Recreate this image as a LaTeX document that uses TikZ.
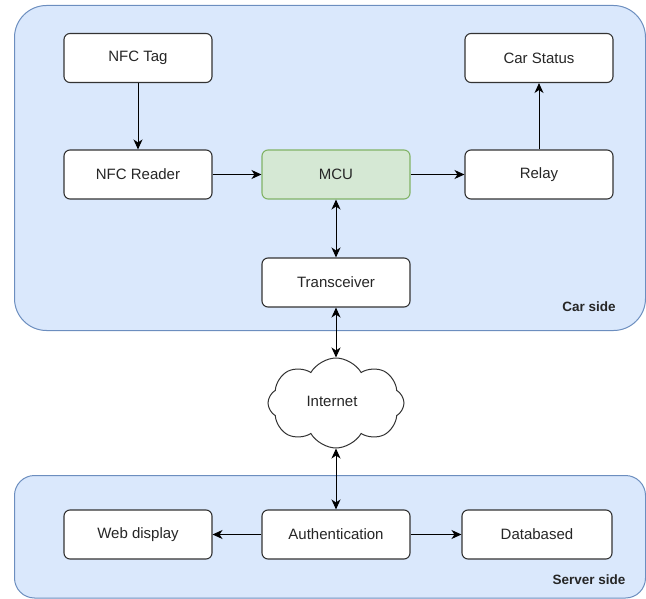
\documentclass[tikz,border=0pt]{standalone}
\usepackage{fontspec}
\setmainfont{Liberation Sans}
\usetikzlibrary{shapes.symbols,arrows.meta}
\definecolor{grpfill}{HTML}{DAE8FC}
\definecolor{grpline}{HTML}{6C8EBF}
\definecolor{mcufill}{HTML}{D5E8D4}
\definecolor{mculine}{HTML}{82B366}
\definecolor{boxline}{HTML}{333333}
\definecolor{txt}{HTML}{262626}
\tikzset{
  blockbox/.style={draw=boxline, fill=white, line width=1.1pt, rounded corners=6pt,
    minimum width=148pt, minimum height=49pt, inner sep=0pt,
    font=\fontsize{15pt}{17pt}\selectfont, text=txt},
  group/.style={draw=grpline, fill=grpfill, line width=1pt},
  tipstyle/.style={},
  conn/.style={line width=1pt, -{Stealth[length=10pt,width=9pt,inset=3pt]}},
  biconn/.style={line width=1pt, {Stealth[length=10pt,width=9pt,inset=3pt]}-{Stealth[length=10pt,width=9pt,inset=3pt]}},
  grouplabel/.style={font=\bfseries\fontsize{13.5pt}{15pt}\selectfont, text=txt, inner sep=0pt}
}
\begin{document}
\begin{tikzpicture}[x=1pt,y=-1pt]
\useasboundingbox (0,0) rectangle (646,599);
% containers
\path[group, rounded corners=32pt] (14.5,5.5) rectangle (645.5,330.5);
\path[group, rounded corners=20pt] (14.5,475.5) rectangle (645.5,598);
\node[grouplabel] (carside) at (589,307) {Car side};
\node[grouplabel] (serverside) at (589,580) {Server side};
% nodes
\node[blockbox] (tag) at (138,58) {NFC Tag};
\node[blockbox] (reader) at (138,174.5) {NFC Reader};
\node[blockbox, draw=mculine, fill=mcufill] (mcu) at (336,174.5) {MCU};
\node[blockbox] (relay) at (539,174.5) {Relay};
\node[blockbox] (status) at (539,58) {Car Status};
\node[blockbox] (trx) at (336,282.5) {Transceiver};
\node[draw=boxline, fill=white, line width=1pt, cloud, cloud puffs=8, cloud puff arc=120, aspect=1.5,
  minimum width=136pt, minimum height=90pt, inner sep=0pt] (net) at (336,403) {};
\node[font=\fontsize{15pt}{17pt}\selectfont, text=txt, inner sep=0pt] (nettext) at (332,401) {Internet};
\node[blockbox] (web) at (138,534.5) {Web display};
\node[blockbox] (auth) at (336,534.5) {Authentication};
\node[blockbox, minimum width=150pt] (db) at (537,534.5) {Databased};
% connectors
\draw[conn] (tag) -- (reader);
\draw[conn] (reader) -- (mcu);
\draw[conn] (mcu) -- (relay);
\draw[conn] (relay) -- (status);
\draw[biconn] (mcu) -- (trx);
\draw[biconn] (trx.south) -- (net.north);
\draw[biconn] (net.south) -- (auth.north);
\draw[conn] (auth) -- (web);
\draw[conn] (auth) -- (db);
\end{tikzpicture}
\end{document}
